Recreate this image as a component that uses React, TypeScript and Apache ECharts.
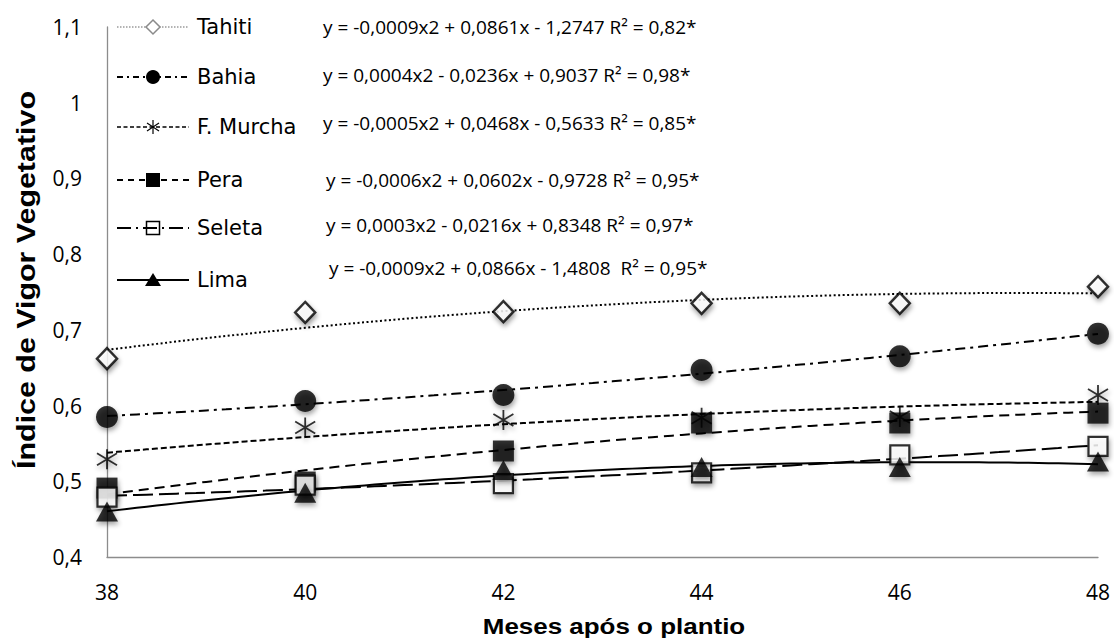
import React, { useEffect, useRef } from "react";
import * as echarts from "echarts";

// ---- data ----
const months = [38, 40, 42, 44, 46, 48];
const varieties = ["Tahiti", "Bahia", "F. Murcha", "Pera", "Seleta", "Lima"];
const tahiti = [0.662, 0.723, 0.724, 0.735, 0.735, 0.757];
const bahia = [0.585, 0.606, 0.614, 0.647, 0.665, 0.695];
const fMurcha = [0.529, 0.571, 0.581, 0.584, 0.585, 0.614];
const pera = [0.491, 0.499, 0.54, 0.577, 0.577, 0.59];
const seleta = [0.479, 0.495, 0.497, 0.511, 0.535, 0.546];
const lima = [0.46, 0.485, 0.515, 0.519, 0.519, 0.526];
const equations = [
  "y = -0,0009x2 + 0,0861x - 1,2747 R² = 0,82*",
  "y = 0,0004x2 - 0,0236x + 0,9037 R² = 0,98*",
  "y = -0,0005x2 + 0,0468x - 0,5633 R² = 0,85*",
  "y = -0,0006x2 + 0,0602x - 0,9728 R² = 0,95*",
  "y = 0,0003x2 - 0,0216x + 0,8348 R² = 0,97*",
  "y = -0,0009x2 + 0,0866x - 1,4808  R² = 0,95*",
];
const xTitle = "Meses após o plantio";
const yTitle = "Índice de Vigor Vegetativo";

const seriesValues = [tahiti, bahia, fMurcha, pera, seleta, lima];

// least-squares quadratic fit (Excel polynomial trendline, order 2)
function quadFit(xs: number[], ys: number[]) {
  let s0 = 0, s1 = 0, s2 = 0, s3 = 0, s4 = 0, t0 = 0, t1 = 0, t2 = 0;
  for (let i = 0; i < xs.length; i++) {
    const x = xs[i], y = ys[i];
    s0 += 1; s1 += x; s2 += x * x; s3 += x * x * x; s4 += x * x * x * x;
    t0 += y; t1 += x * y; t2 += x * x * y;
  }
  const M = [
    [s4, s3, s2, t2],
    [s3, s2, s1, t1],
    [s2, s1, s0, t0],
  ];
  for (let c = 0; c < 3; c++) {
    for (let r = c + 1; r < 3; r++) {
      const f = M[r][c] / M[c][c];
      for (let k = c; k < 4; k++) M[r][k] -= f * M[c][k];
    }
  }
  const sol = [0, 0, 0];
  for (let r = 2; r >= 0; r--) {
    let v = M[r][3];
    for (let k = r + 1; k < 3; k++) v -= M[r][k] * sol[k];
    sol[r] = v / M[r][r];
  }
  return (x: number) => sol[0] * x * x + sol[1] * x + sol[2];
}

const ASTERISK = "path://M10,0L10,20M0,4L20,16M0,16L20,4";

export default function App() {
  const ref = useRef<HTMLDivElement>(null);
  useEffect(() => {
    if (!ref.current) return;
    const chart = echarts.init(ref.current, null, { renderer: "svg" });

    const lineStyles = [
      { width: 2, type: [2, 2.5] },
      { width: 2, type: [10, 5, 3, 5] },
      { width: 2, type: [6, 3] },
      { width: 2, type: [10, 6] },
      { width: 2, type: [20, 6] },
      { width: 2, type: "solid" },
    ];
    const shadow = {
      shadowBlur: 5,
      shadowColor: "rgba(0,0,0,0.45)",
      shadowOffsetX: 1,
      shadowOffsetY: 3,
    };
    const markers: any[] = [
      { symbol: "diamond", symbolSize: [20, 21], itemStyle: { color: "#fff", borderColor: "#000", borderWidth: 2.5, ...shadow } },
      { symbol: "circle", symbolSize: 22, itemStyle: { color: "#000", ...shadow } },
      { symbol: ASTERISK, symbolSize: 20, itemStyle: { color: "rgba(0,0,0,0)", borderColor: "#000", borderWidth: 1.8, ...shadow } },
      { symbol: "rect", symbolSize: 21, itemStyle: { color: "#000", ...shadow } },
      { symbol: "rect", symbolSize: 19, itemStyle: { color: "#fff", borderColor: "#000", borderWidth: 2.2, ...shadow } },
      { symbol: "triangle", symbolSize: [22, 20], itemStyle: { color: "#000", ...shadow } },
    ];

    const series: any[] = [];
    seriesValues.forEach((vals, i) => {
      const f = quadFit(months, vals);
      const curve: number[][] = [];
      for (let k = 0; k <= 100; k++) {
        const x = months[0] + ((months[months.length - 1] - months[0]) * k) / 100;
        curve.push([x, f(x)]);
      }
      series.push({
        name: varieties[i] + " trend",
        type: "line",
        data: curve,
        showSymbol: false,
        symbol: "none",
        lineStyle: { color: "#000", ...lineStyles[i] },
        z: 2,
        silent: true,
      });
    });
    seriesValues.forEach((vals, i) => {
      series.push({
        name: varieties[i],
        type: "scatter",
        data: months.map((m, k) => [m, vals[k]]),
        ...markers[i],
        z: 3,
      });
    });

    // legend drawn manually
    const rowY = [27, 77, 127, 180, 228, 280];
    const eqX = [323, 323, 323, 326, 326, 329];
    const eqY = [27, 75, 123, 180, 225, 268];
    const legendLine = [
      { stroke: "#9a9a9a", lineWidth: 1.5, lineDash: [1.5, 1.5] },
      { stroke: "#000", lineWidth: 2, lineDash: [6, 4, 2, 4] },
      { stroke: "#000", lineWidth: 1.6, lineDash: [4, 2.5] },
      { stroke: "#000", lineWidth: 2, lineDash: [6, 5] },
      { stroke: "#000", lineWidth: 2, lineDash: [14, 5, 2, 5] },
      { stroke: "#000", lineWidth: 2, lineDash: null },
    ];
    const cx = 153;
    const legendMarker = (i: number, y: number): any => {
      switch (i) {
        case 0:
          return { type: "polygon", shape: { points: [[cx, y - 7], [cx + 7, y], [cx, y + 7], [cx - 7, y]] }, style: { fill: "#fff", stroke: "#8a8a8a", lineWidth: 1.5 } };
        case 1:
          return { type: "circle", shape: { cx, cy: y, r: 7 }, style: { fill: "#000" } };
        case 2:
          return {
            type: "group",
            children: [
              { type: "line", shape: { x1: cx, y1: y - 7, x2: cx, y2: y + 7 }, style: { stroke: "#000", lineWidth: 1.2 } },
              { type: "line", shape: { x1: cx - 6, y1: y - 4, x2: cx + 6, y2: y + 4 }, style: { stroke: "#000", lineWidth: 1.2 } },
              { type: "line", shape: { x1: cx - 6, y1: y + 4, x2: cx + 6, y2: y - 4 }, style: { stroke: "#000", lineWidth: 1.2 } },
            ],
          };
        case 3:
          return { type: "rect", shape: { x: cx - 7, y: y - 7, width: 14, height: 14 }, style: { fill: "#000" } };
        case 4:
          return { type: "rect", shape: { x: cx - 6.5, y: y - 6.5, width: 13, height: 13 }, style: { fill: "none", stroke: "#000", lineWidth: 1.5 } };
        default:
          return { type: "polygon", shape: { points: [[cx, y - 7], [cx + 8, y + 6], [cx - 8, y + 6]] }, style: { fill: "#000" } };
      }
    };
    const graphics: any[] = [];
    varieties.forEach((name, i) => {
      const y = rowY[i];
      graphics.push({
        type: "line",
        shape: { x1: 117, y1: y, x2: 189, y2: y },
        style: { ...legendLine[i] },
        z: 10,
      });
      graphics.push({ ...legendMarker(i, y), z: 11 });
      graphics.push({
        type: "text",
        x: 197,
        y,
        z: 11,
        style: {
          text: name,
          fontFamily: "DejaVu Sans",
          fontSize: 21,
          fill: "#000",
          align: "left",
          verticalAlign: "middle",
        },
      });
      graphics.push({
        type: "text",
        x: eqX[i],
        y: eqY[i],
        z: 11,
        style: {
          text: equations[i],
          fontFamily: "Open Sans",
          fontSize: 19,
          fill: "#000",
          align: "left",
          verticalAlign: "middle",
        },
      });
    });
    graphics.push({
      type: "text",
      x: 614,
      y: 626,
      scaleX: 1.18,
      style: {
        text: xTitle,
        fontFamily: "Liberation Sans",
        fontWeight: "bold",
        fontSize: 22,
        fill: "#000",
        align: "center",
        verticalAlign: "middle",
      },
    });
    graphics.push({
      type: "text",
      x: 26,
      y: 280,
      rotation: Math.PI / 2,
      scaleX: 1.17,
      style: {
        text: yTitle,
        fontFamily: "Liberation Sans",
        fontWeight: "bold",
        fontSize: 26,
        fill: "#000",
        align: "center",
        verticalAlign: "middle",
      },
    });

    const axisLineStyle = { color: "#8c8c8c", width: 1.3 };
    chart.setOption({
      animation: false,
      backgroundColor: "#fff",
      grid: { left: 107, right: 16, top: 27, bottom: 81, containLabel: false },
      xAxis: {
        type: "value",
        min: 38,
        max: 48,
        interval: 2,
        axisLine: { show: true, lineStyle: axisLineStyle },
        axisTick: { show: false },
        splitLine: { show: false },
        axisLabel: { fontFamily: "Open Sans", fontSize: 21, color: "#000", margin: 24 },
      },
      yAxis: {
        type: "value",
        min: 0.4,
        max: 1.1,
        interval: 0.1,
        axisLine: { show: true, lineStyle: axisLineStyle },
        axisTick: { show: false },
        splitLine: { show: false },
        axisLabel: {
          fontFamily: "Open Sans",
          fontSize: 21,
          color: "#000",
          margin: 25,
          formatter: (v: number) => String(Number(v.toFixed(1))).replace(".", ","),
        },
      },
      series,
      graphic: graphics,
    });
    return () => chart.dispose();
  }, []);
  return (
    <div
      ref={ref}
      style={{ position: "fixed", left: 0, top: 0, width: 1114, height: 638, background: "#fff" }}
    />
  );
}
